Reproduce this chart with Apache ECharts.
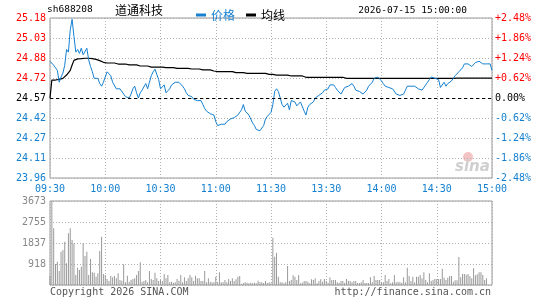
<!DOCTYPE html>
<html>
<head>
<meta charset="utf-8">
<script src="https://cdn.jsdelivr.net/npm/echarts@6/dist/echarts.min.js"></script>
<style>
  html, body { margin: 0; padding: 0; background: #fff; }
  #chart { width: 545px; height: 300px; }
</style>
</head>
<body>
<div id="chart"></div>
<script>
// 道通科技 sh688208 分时图
var prevClose = 24.57;
var maxDiff = 0.61;   // 价格轴上下幅度
var maxPct = 2.48;    // 对应百分比
var tickLabels = ['09:30', '10:00', '10:30', '11:00', '11:30', '13:30', '14:00', '14:30', '15:00'];

// 每分钟价格 (241 points, 09:30-11:30, 13:01-15:00)
var price = [
  24.85,24.86,24.82,24.80,24.78,24.69,24.73,24.76,24.82,24.94,
  24.92,25.09,25.17,25.04,24.92,24.94,24.91,24.95,24.90,24.91,
  24.95,24.86,24.81,24.77,24.72,24.72,24.72,24.68,24.66,24.69,
  24.68,24.77,24.76,24.74,24.69,24.68,24.64,24.63,24.64,24.63,
  24.60,24.58,24.58,24.57,24.60,24.64,24.66,24.61,24.57,24.61,
  24.63,24.64,24.68,24.64,24.69,24.74,24.77,24.79,24.78,24.71,
  24.64,24.65,24.67,24.61,24.62,24.64,24.67,24.68,24.69,24.69,
  24.69,24.69,24.66,24.64,24.61,24.59,24.59,24.58,24.56,24.55,
  24.55,24.55,24.55,24.52,24.49,24.47,24.46,24.45,24.46,24.44,
  24.39,24.36,24.37,24.37,24.38,24.37,24.39,24.40,24.41,24.40,
  24.42,24.43,24.44,24.45,24.48,24.52,24.47,24.46,24.44,24.43,
  24.38,24.36,24.33,24.33,24.32,24.32,24.36,24.41,24.43,24.44,
  24.46,
  24.52,24.62,24.64,24.62,24.57,24.52,24.50,24.50,24.53,
  24.48,24.55,24.55,24.54,24.51,24.52,24.54,24.53,24.47,24.44,
  24.50,24.52,24.52,24.54,24.57,24.58,24.59,24.59,24.61,24.63,
  24.63,24.64,24.67,24.66,24.67,24.65,24.63,24.62,24.60,24.59,
  24.65,24.64,24.66,24.67,24.68,24.66,24.63,24.62,24.62,24.62,
  24.60,24.60,24.63,24.66,24.66,24.69,24.72,24.72,24.73,24.72,
  24.70,24.68,24.66,24.66,24.65,24.66,24.64,24.64,24.60,24.59,
  24.59,24.59,24.60,24.63,24.66,24.67,24.66,24.66,24.66,24.66,
  24.64,24.63,24.63,24.65,24.67,24.69,24.71,24.73,24.73,24.72,
  24.73,24.71,24.65,24.66,24.69,24.66,24.68,24.69,24.70,24.71,
  24.74,24.74,24.77,24.78,24.80,24.83,24.83,24.83,24.82,24.81,
  24.82,24.84,24.84,24.85,24.84,24.83,24.83,24.83,24.83,24.83,
  24.78
];

// 均价线
var avgPrice = [
  24.570,24.707,24.707,24.707,24.707,24.712,24.712,24.720,24.733,24.745,
  24.758,24.781,24.822,24.857,24.865,24.868,24.870,24.870,24.873,24.873,
  24.873,24.873,24.873,24.870,24.870,24.865,24.860,24.855,24.847,24.842,
  24.837,24.837,24.837,24.837,24.837,24.837,24.829,24.829,24.829,24.829,
  24.829,24.829,24.822,24.822,24.822,24.822,24.822,24.822,24.822,24.814,
  24.814,24.814,24.814,24.814,24.814,24.806,24.806,24.806,24.806,24.806,
  24.806,24.806,24.801,24.801,24.801,24.801,24.801,24.801,24.801,24.796,
  24.796,24.796,24.796,24.796,24.796,24.796,24.791,24.791,24.791,24.791,
  24.791,24.791,24.784,24.784,24.784,24.784,24.784,24.784,24.784,24.776,
  24.776,24.771,24.771,24.771,24.771,24.771,24.771,24.771,24.771,24.771,
  24.763,24.763,24.763,24.763,24.763,24.763,24.763,24.758,24.758,24.758,
  24.758,24.758,24.758,24.758,24.758,24.758,24.758,24.758,24.758,24.750,
  24.750,
  24.750,24.745,24.745,24.745,24.745,24.745,24.745,24.745,24.745,
  24.745,24.738,24.738,24.738,24.738,24.738,24.738,24.738,24.738,24.728,
  24.728,24.728,24.728,24.728,24.728,24.728,24.728,24.728,24.728,24.728,
  24.728,24.728,24.728,24.728,24.728,24.728,24.728,24.728,24.728,24.728,
  24.720,24.720,24.720,24.720,24.720,24.720,24.720,24.720,24.720,24.720,
  24.720,24.720,24.720,24.720,24.720,24.720,24.720,24.720,24.720,24.720,
  24.720,24.720,24.720,24.720,24.720,24.720,24.720,24.720,24.720,24.720,
  24.720,24.720,24.720,24.720,24.720,24.720,24.720,24.720,24.720,24.720,
  24.720,24.720,24.720,24.720,24.720,24.720,24.720,24.720,24.720,24.720,
  24.720,24.720,24.720,24.720,24.720,24.720,24.720,24.720,24.720,24.720,
  24.721,24.721,24.721,24.721,24.721,24.721,24.721,24.721,24.721,24.721,
  24.721,24.721,24.721,24.721,24.721,24.721,24.721,24.721,24.721,24.721,
  24.721
];

// 成交量 (手)
var volume = [
  390,3673,2478,918,1020,612,1457,1530,1895,947,
  2259,2478,1968,1822,437,758,656,802,1822,1268,
  1457,437,1137,554,539,364,510,1487,2113,481,
  437,262,175,394,335,394,292,510,219,190,
  904,117,408,146,219,262,292,437,612,991,
  146,175,219,117,612,262,219,539,292,175,
  219,175,481,292,437,117,146,102,117,262,
  190,437,117,335,175,292,437,335,175,408,
  292,292,175,175,612,117,292,146,117,117,
  364,117,554,117,117,219,117,262,175,292,
  175,248,364,394,44,87,117,102,73,102,
  73,102,73,190,117,117,87,175,87,117,
  73,
  2070,1239,1414,364,117,117,73,117,831,
  175,219,423,364,219,437,73,102,175,175,
  146,73,248,219,292,73,175,248,146,262,
  175,102,335,219,219,219,117,87,175,175,
  102,262,190,175,117,175,175,87,87,117,
  219,87,87,87,335,117,394,219,219,219,
  117,117,437,175,262,73,117,437,117,146,
  117,102,335,117,758,394,175,364,117,364,
  364,437,292,554,219,117,510,175,219,262,
  262,262,262,714,321,219,321,394,394,146,
  204,204,1224,335,481,481,452,481,394,292,
  729,423,466,554,554,437,219,292,0,0,
  0
];

// minute categories
var times = [];
function pad(n) { return (n < 10 ? '0' : '') + n; }
for (var m = 0; m <= 120; m++) {
  var t = 9 * 60 + 30 + m;
  times.push(pad(Math.floor(t / 60)) + ':' + pad(t % 60));
}
for (var m2 = 1; m2 <= 120; m2++) {
  var t2 = 13 * 60 + m2;
  times.push(pad(Math.floor(t2 / 60)) + ':' + pad(t2 % 60));
}

// price -> axis percent units
function toPct(p) { return (p - prevClose) / maxDiff * maxPct; }
var pctPrice = price.map(toPct);
var pctAvg = avgPrice.map(toPct);

var BLUE = '#1580d0';
var RED = '#ff0000';
var MONO = 'DejaVu Sans Mono';

function upDownColor(v) {
  v = Number(v);
  if (v > 0.001) return RED;
  if (v < -0.001) return BLUE;
  return '#000';
}
function isTick(idx) { return idx % 30 === 0; }

var myChart = echarts.init(document.getElementById('chart'));
myChart.setOption({
  animation: false,
  grid: [
    {left: 50, top: 18, width: 442, height: 160, show: true, borderColor: '#999', borderWidth: 1, backgroundColor: 'transparent'},
    {left: 50, top: 201, width: 442, height: 84, show: true, borderColor: '#999', borderWidth: 1, backgroundColor: 'transparent'}
  ],
  legend: {
    left: 191, top: 4,
    icon: 'rect', itemWidth: 10, itemHeight: 3, itemGap: 11,
    textStyle: {fontSize: 12, fontFamily: 'Noto Sans CJK SC'},
    data: [
      {name: '价格', textStyle: {color: BLUE}},
      {name: '均线', textStyle: {color: '#000'}}
    ]
  },
  xAxis: [
    {
      type: 'category', gridIndex: 0, data: times, boundaryGap: false,
      axisLine: {show: false}, axisTick: {show: false},
      axisLabel: {
        interval: isTick, margin: 6, color: BLUE, fontFamily: MONO, fontSize: 10,
        formatter: function (v, idx) { return tickLabels[idx / 30]; }
      },
      splitLine: {show: true, interval: isTick, lineStyle: {color: '#b0b0b0', type: [1, 2]}}
    },
    {
      type: 'category', gridIndex: 1, data: times, boundaryGap: false,
      axisLine: {show: false}, axisTick: {show: false}, axisLabel: {show: false},
      splitLine: {show: true, interval: isTick, lineStyle: {color: '#b0b0b0', type: [1, 2]}}
    }
  ],
  yAxis: [
    {
      type: 'value', gridIndex: 0, position: 'left', min: -maxPct, max: maxPct, interval: 0.62,
      axisLine: {show: false}, axisTick: {show: false},
      axisLabel: {
        margin: 4, fontFamily: MONO, fontSize: 10,
        color: function (v) { return upDownColor(v); },
        formatter: function (v) {
          var p = prevClose + v / maxPct * maxDiff;
          return (Math.round(p * 100 + 1e-6) / 100).toFixed(2);
        }
      },
      splitLine: {show: true, lineStyle: {color: '#b0b0b0', type: [1, 2]}}
    },
    {
      type: 'value', gridIndex: 0, position: 'right', min: -maxPct, max: maxPct, interval: 0.62,
      axisLine: {show: false}, axisTick: {show: false},
      axisLabel: {
        margin: 3, fontFamily: MONO, fontSize: 10,
        color: function (v) { return upDownColor(v); },
        formatter: function (v) {
          if (Math.abs(v) < 0.001) return '0.00%';
          return (v > 0 ? '+' : '') + v.toFixed(2) + '%';
        }
      },
      splitLine: {show: false}
    },
    {
      type: 'value', gridIndex: 1, min: 0, max: 3673, interval: 918.25,
      axisLine: {show: false}, axisTick: {show: false},
      axisLabel: {
        margin: 4, fontFamily: MONO, fontSize: 10, color: '#888',
        formatter: function (v) { return v === 0 ? '' : String(Math.round(v)); }
      },
      splitLine: {show: true, lineStyle: {color: '#b0b0b0', type: [1, 2]}}
    }
  ],
  series: [
    {
      name: '价格', type: 'line', xAxisIndex: 0, yAxisIndex: 0,
      data: pctPrice, showSymbol: false, symbol: 'none',
      lineStyle: {color: BLUE, width: 1}, itemStyle: {color: BLUE},
      markLine: {
        silent: true, symbol: 'none', label: {show: false},
        lineStyle: {color: '#000', type: [3, 3], width: 1},
        data: [{yAxis: 0}]
      },
      z: 3
    },
    {
      name: '均线', type: 'line', xAxisIndex: 0, yAxisIndex: 0,
      data: pctAvg, showSymbol: false, symbol: 'none',
      lineStyle: {color: '#000', width: 1.2}, itemStyle: {color: '#000'},
      z: 2
    },
    {
      name: '成交量', type: 'bar', xAxisIndex: 1, yAxisIndex: 2,
      data: volume, barWidth: 1, itemStyle: {color: '#999'}
    }
  ],
  graphic: [
    {type: 'text', left: 47, top: 5, style: {text: 'sh688208', font: '9.5px "DejaVu Sans Mono"', fill: '#000'}},
    {type: 'text', left: 115, top: 4, style: {text: '道通科技', font: '12px "Noto Sans CJK SC"', fill: '#000'}},
    {type: 'text', right: 78, top: 6, style: {text: '2026-07-15 15:00:00', font: '9.5px "DejaVu Sans Mono"', fill: '#000'}},
    {type: 'text', left: 50, top: 287, style: {text: 'Copyright 2026 SINA.COM', font: '10px "DejaVu Sans Mono"', fill: '#555'}},
    {type: 'text', right: 54, top: 287, style: {text: 'http://finance.sina.com.cn', font: '10px "DejaVu Sans Mono"', fill: '#555'}},
    {type: 'circle', shape: {cx: 468, cy: 157, r: 5}, style: {fill: '#f3c4c4'}, silent: true},
    {type: 'text', left: 455, top: 160, style: {text: 'sina', font: 'italic bold 15px "DejaVu Sans"', fill: '#cfcfcf'}, silent: true}
  ]
});
</script>
</body>
</html>
